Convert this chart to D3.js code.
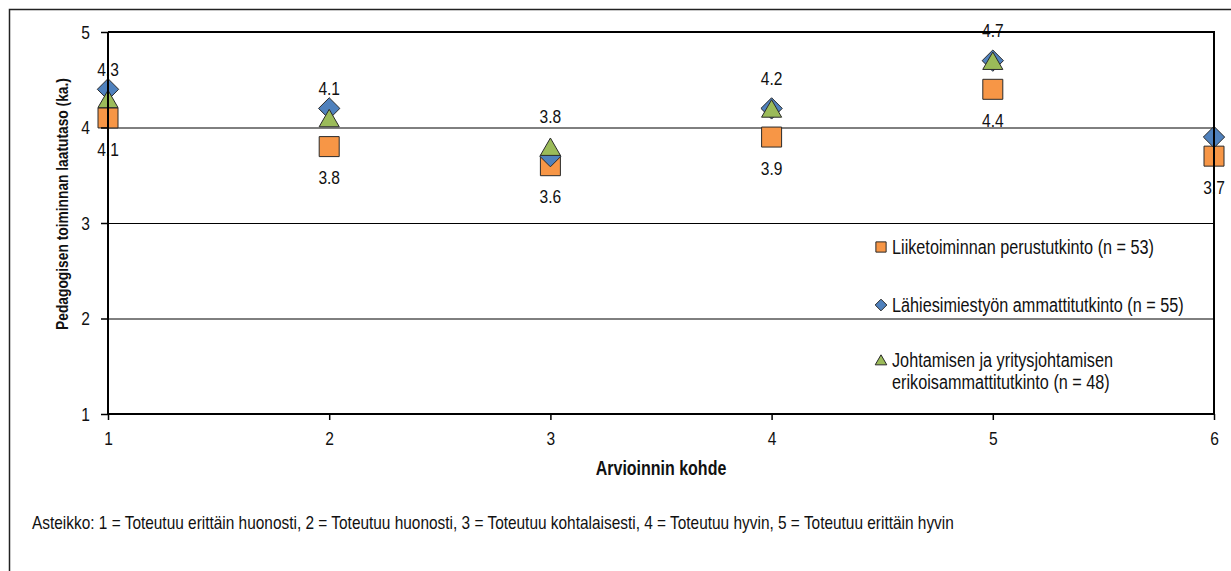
<!DOCTYPE html>
<html>
<head>
<meta charset="utf-8">
<script src="https://cdn.jsdelivr.net/npm/d3@7"></script>
<style>
  body { margin: 0; background: #fff; }
  svg text { font-family: "Liberation Sans", Arial, sans-serif; fill: #111; }
</style>
</head>
<body>
<div id="chart"></div>
<script>
// data
let kohteet = [1, 2, 3, 4, 5, 6];
let perustutkinto = [4.1, 3.8, 3.6, 3.9, 4.4, 3.7];
let lahiesimies = [4.4, 4.2, 3.7, 4.2, 4.7, 3.9];
let johtaminen = [4.3, 4.1, 3.8, 4.2, 4.7, null];
let yTicks = [1, 2, 3, 4, 5];
let seriesNames = [
    'Liiketoiminnan perustutkinto (n = 53)',
    'Lähiesimiestyön ammattitutkinto (n = 55)',
    ['Johtamisen ja yritysjohtamisen', 'erikoisammattitutkinto (n = 48)']
];
let footerText = 'Asteikko: 1 = Toteutuu erittäin huonosti, 2 = Toteutuu huonosti, 3 = Toteutuu kohtalaisesti, 4 = Toteutuu hyvin, 5 = Toteutuu erittäin hyvin';

let width = 1231,
    height = 571,
    narrow = 0.82; // no Arial Narrow here, squeeze Liberation Sans instead

let svg = d3.select('#chart').append('svg')
    .attr('width', width)
    .attr('height', height);

svg.append('rect').attr('width', width).attr('height', height).attr('fill', '#fff');

// narrow text helper
function txt(parent, x, y, str, size, anchor, bold, rotate) {
    let g = parent.append('g')
        .attr('transform', `translate(${x},${y})` + (rotate ? ` rotate(${rotate})` : '') + ` scale(${narrow},1)`);
    let t = g.append('text')
        .attr('text-anchor', anchor || 'start')
        .attr('dy', '0.35em')
        .attr('font-size', size)
        .text(str);
    if (bold) t.attr('font-weight', 'bold');
    return t;
}

// outer frame
svg.append('rect')
    .attr('x', 9.5).attr('y', 9.5)
    .attr('width', 1240).attr('height', 600)
    .attr('fill', 'none')
    .attr('stroke', '#222')
    .attr('stroke-width', 1.5);

let xScale = d3.scaleLinear().domain([1, 6]).range([108, 1214]);
let yScale = d3.scaleLinear().domain([1, 5]).range([414, 32]);

// data labels
let labels = svg.append('g');
kohteet.forEach((d, i) => {
    if (johtaminen[i] != null)
        txt(labels, xScale(d), yScale(johtaminen[i]) - 30, johtaminen[i].toFixed(1), 19, 'middle');
    txt(labels, xScale(d), yScale(perustutkinto[i]) + 31, perustutkinto[i].toFixed(1), 19, 'middle');
});

// gridlines
svg.append('g').selectAll('line')
    .data([2, 3, 4])
    .enter().append('line')
    .attr('x1', xScale(1)).attr('x2', xScale(6))
    .attr('y1', d => yScale(d) + 0.5).attr('y2', d => yScale(d) + 0.5)
    .attr('stroke', '#000').attr('stroke-width', 1);

// markers
let square = d3.symbol().type(d3.symbolSquare).size(400);
let diamond = d3.symbol().type(d3.symbolDiamond2).size(290);
let triangle = d3.symbol().type(d3.symbolTriangle).size(175);

function drawSeries(values, sym, color, dyOff) {
    svg.append('g').selectAll('path')
        .data(kohteet.filter((d, i) => values[i] != null))
        .enter().append('path')
        .attr('d', sym)
        .attr('transform', d => `translate(${xScale(d)},${yScale(values[d - 1]) + dyOff})`)
        .attr('fill', color)
        .attr('stroke', '#2a2a2a')
        .attr('stroke-width', 1);
}
drawSeries(perustutkinto, square, '#F79646', 0);
drawSeries(lahiesimies, diamond, '#4F81BD', 0);
drawSeries(johtaminen, triangle, '#9BBB59', 3);

// plot frame (top/right borders)
svg.append('line').attr('x1', xScale(1)).attr('x2', xScale(6) + 1)
    .attr('y1', yScale(5)).attr('y2', yScale(5))
    .attr('stroke', '#000').attr('stroke-width', 2);
svg.append('line').attr('x1', xScale(6)).attr('x2', xScale(6))
    .attr('y1', yScale(5)).attr('y2', yScale(1))
    .attr('stroke', '#000').attr('stroke-width', 2);

// axes
let axisX = d3.axisBottom(xScale).tickValues(kohteet).tickSize(6).tickFormat(d3.format('d'));
let axisY = d3.axisLeft(yScale).tickValues(yTicks).tickSize(7).tickFormat(d3.format('d'));

let gx = svg.append('g').attr('transform', `translate(0, ${yScale(1)})`).call(axisX);
let gy = svg.append('g').attr('transform', `translate(${xScale(1)}, 0)`).call(axisY);
[gx, gy].forEach(g => {
    g.select('.domain').attr('stroke', '#000').attr('stroke-width', 2);
    g.selectAll('.tick line').attr('stroke', '#000').attr('stroke-width', 1.5);
    g.selectAll('.tick text').attr('font-size', 19).attr('fill', '#111')
        .style('font-family', '"Liberation Sans", Arial, sans-serif');
});
gx.select('.domain').attr('d', `M${xScale(1)},0H${xScale(6)}`);
gy.select('.domain').attr('d', `M0,${yScale(1)}V${yScale(5)}`);
gx.selectAll('.tick text').attr('y', 24).attr('dy', '0.35em')
    .attr('transform', `scale(${narrow},1)`);
gy.selectAll('.tick text').attr('x', -18 / narrow)
    .attr('transform', `scale(${narrow},1)`);

// axis titles
txt(svg, (xScale(1) + xScale(6)) / 2, 468, 'Arvioinnin kohde', 19.5, 'middle', true);
txt(svg, 62, 204, 'Pedagogisen toiminnan laatutaso (ka.)', 16.8, 'middle', true, -90);

// legend
let legend = svg.append('g');
let legendRows = [247, 305, 360];
let legendSyms = [
    d3.symbol().type(d3.symbolSquare).size(105),
    d3.symbol().type(d3.symbolDiamond2).size(87),
    d3.symbol().type(d3.symbolTriangle).size(58)
];
let legendColors = ['#F79646', '#4F81BD', '#9BBB59'];
seriesNames.forEach((name, i) => {
    legend.append('path')
        .attr('d', legendSyms[i])
        .attr('transform', `translate(881, ${legendRows[i] + (i === 2 ? 1.5 : 0)})`)
        .attr('fill', legendColors[i])
        .attr('stroke', '#2a2a2a');
    let lines = Array.isArray(name) ? name : [name];
    lines.forEach((l, j) => txt(legend, 892, legendRows[i] + j * 22, l, 19.8, 'start'));
});

// footer
txt(svg, 32, 522, footerText, 18.8, 'start');
</script>
</body>
</html>
